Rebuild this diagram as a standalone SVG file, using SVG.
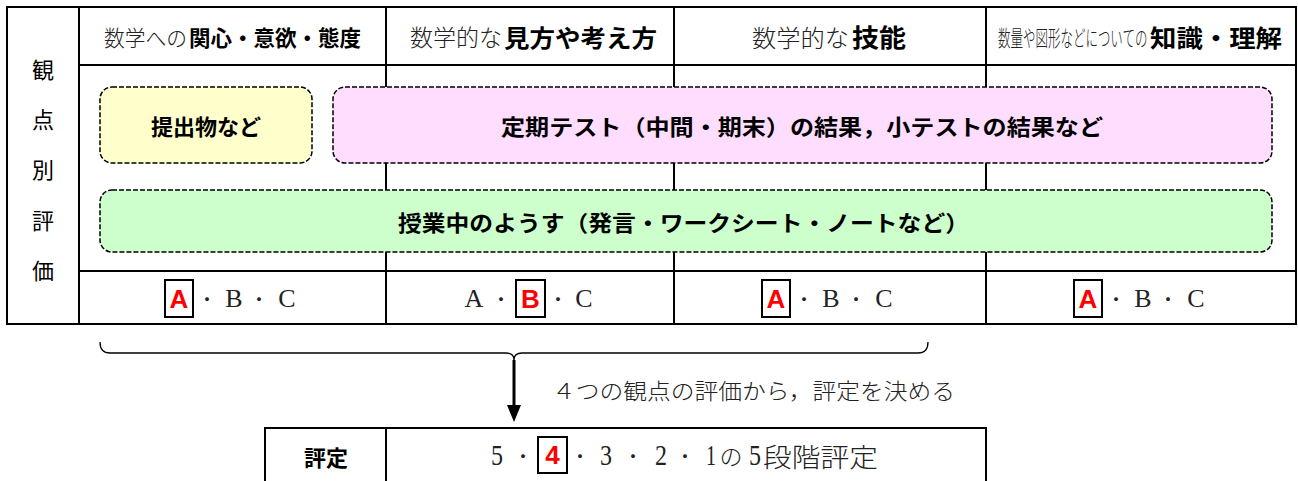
<svg xmlns="http://www.w3.org/2000/svg" width="1298" height="481" viewBox="0 0 1298 481">
<style>
.ln{stroke:#000;stroke-width:2;fill:none}
.dash{stroke:#000;stroke-width:1.5;stroke-dasharray:5 2}
.g{font-family:"Noto Sans CJK JP","Noto Sans",sans-serif;fill:#000}
.m{font-family:"Noto Sans CJK JP",sans-serif;font-weight:300;fill:#222}
.b{font-family:"Noto Sans CJK JP",sans-serif;font-weight:700;fill:#000}
.s{font-family:"Liberation Serif","Noto Sans CJK JP",serif;fill:#222}
.dot{font-family:"Noto Sans CJK JP",sans-serif;font-weight:300;fill:#222}
.red{font-family:"Liberation Sans","Noto Sans CJK JP",sans-serif;font-weight:700;fill:#FF0000}
.bx{fill:#fff;stroke:#000;stroke-width:2}
</style>
<rect width="1298" height="481" fill="#fff"/>

<g id="table">
<rect class="ln" x="7" y="7" width="1289" height="317"/>
<line class="ln" x1="79" y1="7" x2="79" y2="324"/>
<line class="ln" x1="386" y1="7" x2="386" y2="324"/>
<line class="ln" x1="674" y1="7" x2="674" y2="324"/>
<line class="ln" x1="986" y1="7" x2="986" y2="324"/>
<line class="ln" x1="79" y1="65" x2="1296" y2="65"/>
<line class="ln" x1="79" y1="271" x2="1296" y2="271"/>
</g>

<g id="side-label" class="g" font-size="22" text-anchor="middle" dominant-baseline="central">
<text x="43" y="68">観</text>
<text x="43" y="118">点</text>
<text x="43" y="168">別</text>
<text x="43" y="219">評</text>
<text x="43" y="269">価</text>
</g>

<g id="headers" dominant-baseline="central">
<text class="m" x="104" y="36" font-size="22" textLength="83" lengthAdjust="spacingAndGlyphs">数学への</text>
<text class="b" x="189" y="36" font-size="22" textLength="172" lengthAdjust="spacingAndGlyphs">関心・意欲・態度</text>
<text class="m" x="410" y="36" font-size="23" textLength="92" lengthAdjust="spacingAndGlyphs">数学的な</text>
<text class="b" x="504" y="36" font-size="24" textLength="153" lengthAdjust="spacingAndGlyphs">見方や考え方</text>
<text class="m" x="752" y="36" font-size="24" textLength="97" lengthAdjust="spacingAndGlyphs">数学的な</text>
<text class="b" x="852" y="36" font-size="25" textLength="54" lengthAdjust="spacingAndGlyphs">技能</text>
<text class="m" transform="translate(998,36) scale(0.568,1)" x="0" y="0" font-size="22">数量や図形などについての</text>
<text class="b" x="1150" y="36" font-size="24" textLength="132" lengthAdjust="spacingAndGlyphs">知識・理解</text>
</g>

<g id="box-teishutsu">
<rect class="dash" x="100" y="87" width="212" height="76" rx="12" fill="#FFFFCC"/>
<text class="b" x="206" y="125" font-size="22" text-anchor="middle" dominant-baseline="central">提出物など</text>
</g>
<g id="box-test">
<rect class="dash" x="333" y="87" width="939" height="76" rx="12" fill="#FFDDFF"/>
<text class="b" x="501" y="125" font-size="22" textLength="602" lengthAdjust="spacingAndGlyphs" dominant-baseline="central">定期テスト（中間・期末）の結果，小テストの結果など</text>
</g>
<g id="box-jugyo">
<rect class="dash" x="100" y="190" width="1172" height="62" rx="12" fill="#CCFFCC"/>
<text class="b" x="398" y="221" font-size="22" textLength="571" lengthAdjust="spacingAndGlyphs" dominant-baseline="central">授業中のようす（発言・ワークシート・ノートなど）</text>
</g>

<g id="eval-1">
<rect class="bx" x="165" y="280" width="28" height="37"/>
<text class="red" x="179" y="308" font-size="26" text-anchor="middle">A</text>
<text class="dot" x="207" y="298" font-size="20" text-anchor="middle" dominant-baseline="central">・</text>
<text class="s" x="234" y="307" font-size="26" text-anchor="middle">B</text>
<text class="dot" x="259" y="298" font-size="20" text-anchor="middle" dominant-baseline="central">・</text>
<text class="s" x="287" y="307" font-size="26" text-anchor="middle">C</text>
</g>
<g id="eval-2">
<text class="s" x="474" y="307" font-size="26" text-anchor="middle">A</text>
<text class="dot" x="501" y="298" font-size="20" text-anchor="middle" dominant-baseline="central">・</text>
<rect class="bx" x="516" y="280" width="29" height="37"/>
<text class="red" x="530.5" y="308" font-size="26" text-anchor="middle">B</text>
<text class="dot" x="558" y="298" font-size="20" text-anchor="middle" dominant-baseline="central">・</text>
<text class="s" x="584" y="307" font-size="26" text-anchor="middle">C</text>
</g>
<g id="eval-3">
<rect class="bx" x="762" y="280" width="28" height="37"/>
<text class="red" x="776" y="308" font-size="26" text-anchor="middle">A</text>
<text class="dot" x="804" y="298" font-size="20" text-anchor="middle" dominant-baseline="central">・</text>
<text class="s" x="831" y="307" font-size="26" text-anchor="middle">B</text>
<text class="dot" x="856" y="298" font-size="20" text-anchor="middle" dominant-baseline="central">・</text>
<text class="s" x="884" y="307" font-size="26" text-anchor="middle">C</text>
</g>
<g id="eval-4">
<rect class="bx" x="1074" y="280" width="28" height="37"/>
<text class="red" x="1088" y="308" font-size="26" text-anchor="middle">A</text>
<text class="dot" x="1116" y="298" font-size="20" text-anchor="middle" dominant-baseline="central">・</text>
<text class="s" x="1143" y="307" font-size="26" text-anchor="middle">B</text>
<text class="dot" x="1168" y="298" font-size="20" text-anchor="middle" dominant-baseline="central">・</text>
<text class="s" x="1196" y="307" font-size="26" text-anchor="middle">C</text>
</g>

<g id="connectors">
<path d="M100,342 Q100,353 110,353 L506,353 Q514,353 514,360 Q514,353 522,353 L918,353 Q928,353 928,342" fill="none" stroke="#000" stroke-width="1.3"/>
<line x1="514" y1="360" x2="514" y2="406" stroke="#000" stroke-width="3"/>
<path d="M507,405 L521,405 L514,422 Z" fill="#000"/>
</g>

<g id="caption">
<text class="m" x="552" y="389" font-size="22" textLength="403" lengthAdjust="spacingAndGlyphs" dominant-baseline="central">４つの観点の評価から，評定を決める</text>
</g>

<g id="hyotei">
<rect class="ln" x="265" y="428" width="721" height="60"/>
<line class="ln" x1="386" y1="428" x2="386" y2="481"/>
<text class="b" x="326" y="456" font-size="22" text-anchor="middle" dominant-baseline="central">評定</text>
<text class="s" x="491" y="465" font-size="29" textLength="12" lengthAdjust="spacingAndGlyphs">5</text>
<text class="dot" x="523" y="455" font-size="20" text-anchor="middle" dominant-baseline="central">・</text>
<rect class="bx" x="538" y="437" width="29" height="36"/>
<text class="red" x="552.5" y="464" font-size="26" text-anchor="middle">4</text>
<text class="dot" x="580" y="455" font-size="20" text-anchor="middle" dominant-baseline="central">・</text>
<text class="s" x="600" y="465" font-size="29" textLength="12" lengthAdjust="spacingAndGlyphs">3</text>
<text class="dot" x="633" y="455" font-size="20" text-anchor="middle" dominant-baseline="central">・</text>
<text class="s" x="655" y="465" font-size="29" textLength="12" lengthAdjust="spacingAndGlyphs">2</text>
<text class="dot" x="685" y="455" font-size="20" text-anchor="middle" dominant-baseline="central">・</text>
<text class="s" x="706" y="465" font-size="29" textLength="10" lengthAdjust="spacingAndGlyphs">1</text>
<text class="m" x="731" y="455" font-size="23" text-anchor="middle" dominant-baseline="central">の</text>
<text class="s" x="749" y="465" font-size="29" textLength="12" lengthAdjust="spacingAndGlyphs">5</text>
<text class="m" x="763" y="455" font-size="26" textLength="115" lengthAdjust="spacingAndGlyphs" dominant-baseline="central">段階評定</text>
</g>
</svg>
